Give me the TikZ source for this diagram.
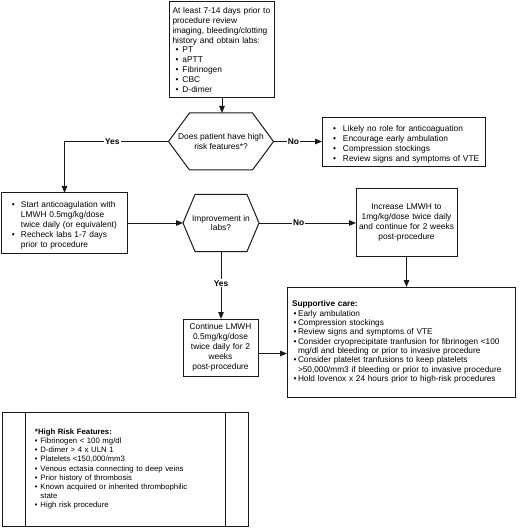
\documentclass[tikz,border=0pt]{standalone}
\usepackage{fontspec}
\setmainfont{Liberation Sans}
\usetikzlibrary{arrows.meta,calc}
\newcommand\fs{\fontsize{8.4}{10}\selectfont}
\newcommand\fsup{\fontsize{8.3}{9.4}\selectfont}
\newcommand\fhr{\fontsize{7.8}{9.1}\selectfont}
\newcommand\bitm[3]{\par\noindent\hangindent=#2\hangafter=1\hbox to #2{\hskip #1\textbullet\hfil}#3}
\newcommand\hexdraw[2]{\draw[ln] (#1.west) -- ([xshift=#2]#1.north west) -- ([xshift=-#2]#1.north east) -- (#1.east) -- ([xshift=-#2]#1.south east) -- ([xshift=#2]#1.south west) -- cycle;}
\tikzset{
  ln/.style={line width=1bp, draw=black!90},
  box/.style={ln, rectangle, inner sep=0pt, outer sep=0pt, font=\fs},
  hexn/.style={rectangle, inner sep=0pt, outer sep=0pt, align=center, font=\fs},
  arr/.style={ln, -{Triangle[length=7bp,width=5.5bp]}},
  lbl/.style={fill=white, font=\fs\bfseries, inner sep=1bp},
}
\begin{document}
\begin{tikzpicture}[x=1bp,y=-1bp]
\useasboundingbox (0,0) rectangle (520,530);
\fill[white] (0,0) rectangle (520,530);

\node[box, minimum width=105bp, minimum height=96bp, text width=99bp, align=left] (top) at (222,50)
 {At least 7-14 days prior to\\procedure review\\imaging, bleeding/clotting\\history and obtain labs:%
  \bitm{3bp}{10bp}{PT}\bitm{3bp}{10bp}{aPTT}\bitm{3bp}{10bp}{Fibrinogen}\bitm{3bp}{10bp}{CBC}\bitm{3bp}{10bp}{D-dimer}\par};

\node[hexn, minimum width=105bp, minimum height=57bp] (h1) at (221,141.5) {Does patient have high\\risk features*?};
\hexdraw{h1}{21bp}

\node[box, minimum width=163bp, minimum height=49bp, text width=155bp, align=left] (b1) at (403.5,142.5)
 {\bitm{7bp}{17bp}{Likely no role for anticoaguation}\bitm{7bp}{17bp}{Encourage early ambulation}\bitm{7bp}{17bp}{Compression stockings}\bitm{7bp}{17bp}{Review signs and symptoms of VTE}\par};

\node[box, minimum width=125bp, minimum height=60bp, text width=119bp, align=left] (b2) at (64.5,223)
 {\bitm{7bp}{16bp}{Start anticoagulation with\newline LMWH 0.5mg/kg/dose\newline twice daily (or equivalent)}\bitm{7bp}{16bp}{Recheck labs 1-7 days\newline prior to procedure}\par};

\node[hexn, minimum width=76bp, minimum height=57bp] (h2) at (221,223) {Improvement in\\labs?};
\hexdraw{h2}{12bp}

\node[box, minimum width=101bp, minimum height=67bp, text width=97bp, align=center] (b3) at (406.5,222.5)
 {Increase LMWH to\\1mg/kg/dose twice daily\\and continue for 2 weeks\\post-procedure};

\node[box, minimum width=75bp, minimum height=57bp, text width=71bp, align=center] (b4) at (220.5,347.5)
 {Continue LMWH\\0.5mg/kg/dose\\twice daily for 2\\weeks\\post-procedure};

\node[box, font=\fsup, minimum width=228bp, minimum height=110bp, text width=218bp, align=left] (sup) at (401,342)
 {\textbf{Supportive care:}%
  \bitm{1.5bp}{6bp}{Early ambulation}%
  \bitm{1.5bp}{6bp}{Compression stockings}%
  \bitm{1.5bp}{6bp}{Review signs and symptoms of VTE}%
  \bitm{1.5bp}{6bp}{Consider cryoprecipitate tranfusion for fibrinogen <100\newline mg/dl and bleeding or prior to invasive procedure}%
  \bitm{1.5bp}{6bp}{Consider platelet tranfusions to keep platelets\newline >50,000/mm3 if bleeding or prior to invasive procedure}%
  \bitm{1.5bp}{6bp}{Hold lovenox x 24 hours prior to high-risk procedures}\par};

\node[box, font=\fhr, minimum width=245bp, minimum height=114bp, text width=181bp, align=left] (hr) at (125.5,469)
 {\textbf{*High Risk Features:}%
  \bitm{0bp}{5.5bp}{Fibrinogen < 100 mg/dl}%
  \bitm{0bp}{5.5bp}{D-dimer > 4 x ULN 1}%
  \bitm{0bp}{5.5bp}{Platelets <150,000/mm3}%
  \bitm{0bp}{5.5bp}{Venous ectasia connecting to deep veins}%
  \bitm{0bp}{5.5bp}{Prior history of thrombosis}%
  \bitm{0bp}{5.5bp}{Known acquired or inherited thrombophilic\newline state}%
  \bitm{0bp}{5.5bp}{High risk procedure}\par};
\draw[ln] ([xshift=23bp]hr.north west) -- ([xshift=23bp]hr.south west);
\draw[ln] ([xshift=-23bp]hr.north east) -- ([xshift=-23bp]hr.south east);

% connectors
\draw[arr] (top.south) -- (top.south |- h1.north);
\draw[arr] (h1.west) -| (b2.north) node[lbl, pos=0.27] {Yes};
\draw[arr] (h1.east) -- (h1.east -| b1.west) node[lbl, pos=0.41] {No};
\draw[arr] (b2.east) -- (h2.west);
\draw[arr] (h2.east) -- (h2.east -| b3.west) node[lbl, pos=0.41] {No};
\draw[arr] (h2.south) -- (h2.south |- b4.north) node[lbl, pos=0.47] {Yes};
\draw[arr] (b3.south) -- (b3.south |- sup.north);
\draw[arr] ([yshift=-6bp]b4.east) -- ([yshift=-6bp]b4.east -| sup.west);
\end{tikzpicture}
\end{document}
